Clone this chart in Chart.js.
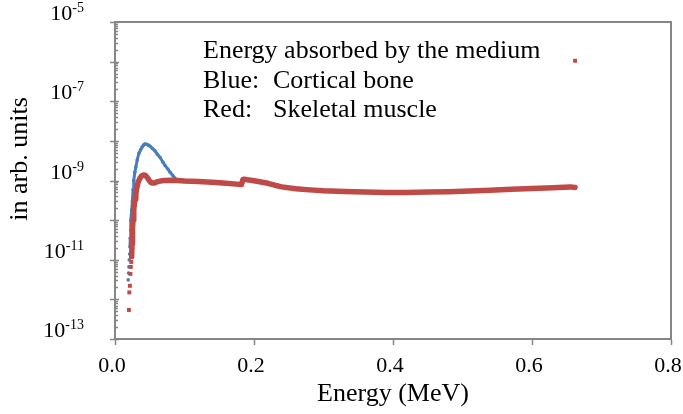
<!DOCTYPE html>
<html>
<head>
<meta charset="utf-8">
<script src="https://cdn.jsdelivr.net/npm/chart.js@4.4.1/dist/chart.umd.min.js"></script>
<style>
  html, body { margin: 0; padding: 0; background: #fff; }
  #wrap { width: 683px; height: 414px; }
</style>
</head>
<body>
<div id="wrap"><canvas id="energyChart" width="683" height="414"></canvas></div>
<script>
// Energy (MeV) vs. energy absorbed (arb. units)
const muscleEnergy = [
    0.0200, 0.0206, 0.0214, 0.0222, 0.0228, 0.0234, 0.0240, 0.0245, 0.0250, 0.0255,
    0.0260, 0.0270, 0.0280, 0.0290, 0.0300, 0.0315, 0.0330, 0.0345, 0.0360, 0.0380,
    0.0400, 0.0420, 0.0440, 0.0460, 0.0480, 0.0500, 0.0520, 0.0540, 0.0560, 0.0580,
    0.0600, 0.0630, 0.0670, 0.0720, 0.0800, 0.0900, 0.1000, 0.1200, 0.1400, 0.1600,
    0.1750, 0.1820, 0.1840, 0.1860, 0.1900, 0.2000, 0.2100, 0.2200, 0.2300, 0.2400,
    0.2600, 0.2800, 0.3000, 0.3300, 0.3600, 0.3900, 0.4200, 0.4500, 0.4800, 0.5100,
    0.5400, 0.5700, 0.6000, 0.6300, 0.6550, 0.6620, 0.6620
];
const muscleValue = [
    5.4e-13, 1.5e-12, 2.2e-12, 4.4e-12, 6.6e-12, 8.8e-12, 1.2e-11, 2.5e-11, 4.0e-11, 6.5e-11,
    1.0e-10, 1.8e-10, 2.6e-10, 3.4e-10, 4.6e-10, 6.6e-10, 8.6e-10, 1.02e-9, 1.15e-9, 1.28e-9,
    1.36e-9, 1.38e-9, 1.33e-9, 1.22e-9, 1.08e-9, 9.6e-10, 8.9e-10, 8.6e-10, 8.6e-10, 8.8e-10,
    9.2e-10, 9.5e-10, 9.8e-10, 1.0e-9, 1.01e-9, 1.0e-9, 9.7e-10, 9.5e-10, 9.0e-10, 8.5e-10,
    8.1e-10, 7.9e-10, 1.05e-9, 1.08e-9, 1.05e-9, 9.9e-10, 9.2e-10, 8.5e-10, 7.6e-10, 6.9e-10,
    6.2e-10, 5.8e-10, 5.5e-10, 5.3e-10, 5.1e-10, 5.0e-10, 5.0e-10, 5.1e-10, 5.2e-10, 5.4e-10,
    5.7e-10, 6.0e-10, 6.3e-10, 6.6e-10, 6.9e-10, 6.7e-10, 1.05e-6
];
const boneEnergy = [
    0.0190, 0.0195, 0.0200, 0.0205, 0.0210, 0.0215, 0.0220, 0.0225, 0.0230, 0.0240,
    0.0250, 0.0260, 0.0270, 0.0285, 0.0300, 0.0320, 0.0345, 0.0370, 0.0390, 0.0410,
    0.0430, 0.0450, 0.0480, 0.0505, 0.0540, 0.0575, 0.0610, 0.0650, 0.0690, 0.0720,
    0.0760, 0.0790, 0.0830, 0.0860, 0.0900
];
const boneValue = [
    3.1e-12, 4.6e-12, 6.6e-12, 9.9e-12, 1.4e-11, 2.1e-11, 3.5e-11, 5.6e-11, 1.0e-10, 1.8e-10,
    3.0e-10, 5.8e-10, 1.0e-9, 1.6e-9, 2.2e-9, 3.3e-9, 4.9e-9, 6.0e-9, 7.0e-9, 7.8e-9,
    8.3e-9, 8.2e-9, 7.8e-9, 7.3e-9, 6.4e-9, 5.6e-9, 4.6e-9, 3.8e-9, 2.9e-9, 2.4e-9,
    1.95e-9, 1.63e-9, 1.35e-9, 1.15e-9, 1.02e-9
];

const xTicks = [0, 0.2, 0.4, 0.6, 0.8];
const yTickPowers = [-13, -11, -9, -7, -5];
const noteLines = [
    ['Energy absorbed by the medium', ''],
    ['Blue:', 'Cortical bone'],
    ['Red:', 'Skeletal muscle']
];

const toPoints = (xs, ys) => xs.map((x, i) => ({ x: x, y: ys[i] }));

const blue = '#4A7EBB';
const red = '#BE4B48';
const axisGray = '#868686';
const serif = '"Liberation Serif", "Times New Roman", serif';

// frame, log ticks with superscript labels, y title and the note
const decorations = {
    id: 'decorations',
    afterDraw(chart) {
        const ctx = chart.ctx;
        const area = chart.chartArea;
        const yScale = chart.scales.y;
        ctx.save();

        ctx.strokeStyle = axisGray;
        ctx.lineWidth = 2;
        ctx.beginPath();
        ctx.moveTo(area.left, area.top);
        ctx.lineTo(area.right, area.top);
        ctx.lineTo(area.right, area.bottom);
        ctx.stroke();

        ctx.lineWidth = 1.5;
        for (let p = -13; p <= -5; p++) {
            for (let m = 1; m <= 9; m++) {
                if (p === -5 && m > 1) break;
                const py = Math.round(yScale.getPixelForValue(m * Math.pow(10, p))) + 0.5;
                ctx.beginPath();
                if (m === 1) {
                    ctx.moveTo(area.left - 5, py);
                    ctx.lineTo(area.left + 4, py);
                } else {
                    ctx.moveTo(area.left, py);
                    ctx.lineTo(area.left + 3, py);
                }
                ctx.stroke();
            }
        }

        ctx.fillStyle = '#000';
        ctx.textBaseline = 'alphabetic';
        yTickPowers.forEach(p => {
            const py = yScale.getPixelForValue(Math.pow(10, p));
            const sup = String(p);
            ctx.font = '14px ' + serif;
            const supW = ctx.measureText(sup).width;
            const right = area.left - 31;
            ctx.textAlign = 'right';
            ctx.fillText(sup, right, py - 10);
            ctx.font = '22px ' + serif;
            ctx.fillText('10', right - supW, py - 2);
        });

        ctx.font = '26px ' + serif;
        ctx.textAlign = 'center';
        ctx.translate(20, 159);
        ctx.rotate(-Math.PI / 2);
        ctx.textBaseline = 'middle';
        ctx.fillText('in arb. units', 0, 0);
        ctx.setTransform(1, 0, 0, 1, 0, 0);

        ctx.textAlign = 'left';
        ctx.textBaseline = 'alphabetic';
        noteLines.forEach((line, i) => {
            const by = area.top + 36 + i * 29.5;
            ctx.fillText(line[0], area.left + 88, by);
            if (line[1]) ctx.fillText(line[1], area.left + 158, by);
        });
        ctx.restore();
    }
};

const ctx = document.getElementById('energyChart').getContext('2d');

const energyChart = new Chart(ctx, {
    type: 'scatter',
    data: {
        datasets: [
            {
                label: 'Skeletal muscle',
                data: toPoints(muscleEnergy, muscleValue),
                showLine: true,
                borderColor: red,
                backgroundColor: red,
                borderWidth: 5.5,
                borderCapStyle: 'round',
                borderJoinStyle: 'round',
                pointStyle: 'rect',
                pointRadius: 2.8,
                pointBorderWidth: 0,
                segment: {
                    // sparse low bins and the photopeak are single dots
                    borderColor: c => (c.p0.parsed.y < 1e-11 || c.p1.parsed.y > 1e-7) ? 'rgba(0,0,0,0)' : red
                }
            },
            {
                label: 'Cortical bone',
                data: toPoints(boneEnergy, boneValue),
                showLine: true,
                borderColor: blue,
                backgroundColor: blue,
                borderWidth: 3,
                pointRadius: 1.8,
                pointBorderWidth: 0,
                segment: {
                    borderColor: c => c.p0.parsed.y < 2e-11 ? 'rgba(0,0,0,0)' : blue
                }
            }
        ]
    },
    options: {
        responsive: false,
        animation: false,
        devicePixelRatio: 1,
        layout: { padding: { top: 22, right: 12, left: 0, bottom: 0 } },
        plugins: {
            legend: { display: false },
            tooltip: { enabled: false }
        },
        scales: {
            x: {
                type: 'linear',
                min: 0,
                max: 0.8,
                afterBuildTicks: s => { s.ticks = xTicks.map(v => ({ value: v })); },
                afterFit: s => { s.height = 75; s.paddingLeft = 0; s.paddingRight = 0; },
                ticks: {
                    color: '#000',
                    font: { family: serif, size: 22 },
                    padding: 8,
                    labelOffset: -3,
                    maxRotation: 0,
                    callback: v => v.toFixed(1)
                },
                grid: {
                    drawOnChartArea: false,
                    drawTicks: true,
                    tickLength: 6,
                    color: axisGray,
                    tickWidth: 1.5
                },
                border: { color: axisGray, width: 2 },
                title: {
                    display: true,
                    text: 'Energy (MeV)',
                    color: '#000',
                    font: { family: serif, size: 26 },
                    padding: { top: 0, bottom: 4 }
                }
            },
            y: {
                type: 'logarithmic',
                min: 1e-13,
                max: 1e-5,
                afterFit: s => { s.width = 115; },
                ticks: { display: false },
                grid: { display: false },
                border: { color: axisGray, width: 2 }
            }
        }
    },
    plugins: [decorations]
});
</script>
</body>
</html>
